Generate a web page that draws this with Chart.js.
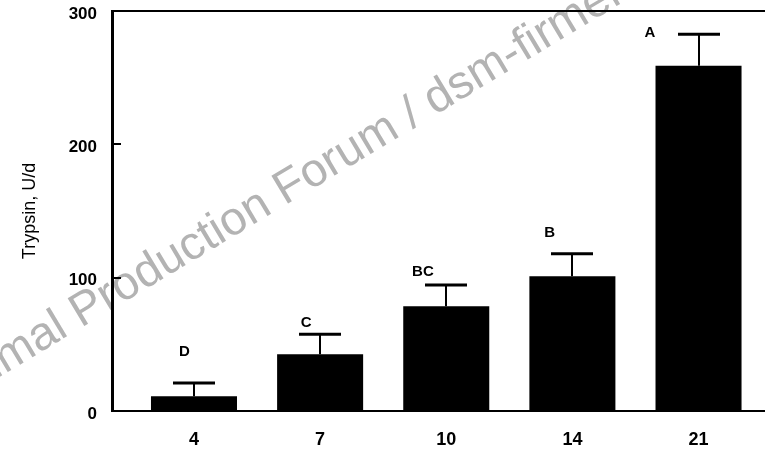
<!DOCTYPE html>
<html>
<head>
<meta charset="utf-8">
<script src="https://cdn.jsdelivr.net/npm/chart.js@4"></script>
<style>
  html, body { margin: 0; padding: 0; background: #fff; }
  #wrap { width: 765px; height: 450px; }
</style>
</head>
<body>
<div id="wrap"><canvas id="chart" width="765" height="450"></canvas></div>
<script>
const days = ["4", "7", "10", "14", "21"];
const trypsin = [11, 42.5, 78.5, 101, 259];
const trypsinSE = [10, 15, 16, 17, 23.5];
const letters = ["D", "C", "BC", "B", "A"];
// letter anchors in axis units (bar index, U/d)
const letterX = [0.925, 1.89, 2.815, 3.82, 4.615];
const letterY = [44, 66, 104, 133.5, 283.5];
const yTicks = [0, 100, 200, 300];
const watermarkLead = "Animal ";
const watermarkRest = "Production Forum / dsm-firmenich";

const extras = {
  id: "extras",
  beforeDraw(chart) {
    const ctx = chart.ctx;
    ctx.save();
    ctx.fillStyle = "#fff";
    ctx.fillRect(0, 0, chart.width, chart.height);
    ctx.translate(81, 328);
    ctx.rotate(-31 * Math.PI / 180);
    ctx.font = "47px 'Liberation Sans', Arial, sans-serif";
    ctx.fillStyle = "#b3b3b3";
    ctx.textBaseline = "alphabetic";
    ctx.textAlign = "right";
    ctx.fillText(watermarkLead, 0, 0);
    ctx.textAlign = "left";
    ctx.fillText(watermarkRest, 0, 0);
    ctx.restore();
  },
  afterDatasetsDraw(chart) {
    const { ctx, chartArea: area, scales: { x, y } } = chart;
    ctx.save();
    ctx.strokeStyle = "#000";
    ctx.lineCap = "butt";

    // top frame line
    ctx.lineWidth = 2;
    ctx.beginPath();
    ctx.moveTo(area.left, area.top);
    ctx.lineTo(area.right, area.top);
    ctx.stroke();

    // inward tick marks
    yTicks.slice(1, -1).forEach((v) => {
      const py = Math.round(y.getPixelForValue(v));
      ctx.beginPath();
      ctx.moveTo(area.left, py);
      ctx.lineTo(area.left + 9, py);
      ctx.stroke();
    });

    // error bars (upper only)
    trypsin.forEach((m, i) => {
      const cx = Math.round(x.getPixelForValue(i + 1));
      const y0 = y.getPixelForValue(m);
      const y1 = y.getPixelForValue(m + trypsinSE[i]);
      ctx.lineWidth = 2;
      ctx.beginPath();
      ctx.moveTo(cx, y0);
      ctx.lineTo(cx, y1);
      ctx.stroke();
      ctx.lineWidth = 3;
      ctx.beginPath();
      ctx.moveTo(cx - 21, y1);
      ctx.lineTo(cx + 21, y1);
      ctx.stroke();
    });

    // significance letters
    ctx.fillStyle = "#000";
    ctx.font = "bold 15px 'Liberation Sans', Arial, sans-serif";
    ctx.textAlign = "center";
    ctx.textBaseline = "middle";
    letters.forEach((t, i) => {
      ctx.fillText(t, x.getPixelForValue(letterX[i]), y.getPixelForValue(letterY[i]));
    });
    ctx.restore();
  },
};

new Chart(document.getElementById("chart"), {
  type: "bar",
  data: {
    datasets: [
      {
        label: "Trypsin, U/d",
        data: trypsin.map((v, i) => ({ x: i + 1, y: v })),
        backgroundColor: "#000",
        borderWidth: 0,
        barPercentage: 0.682,
        categoryPercentage: 1,
      },
    ],
  },
  options: {
    responsive: false,
    animation: false,
    devicePixelRatio: 1,
    layout: { padding: { top: 11, right: 0, bottom: 0, left: 0 } },
    plugins: {
      legend: { display: false },
      tooltip: { enabled: false },
    },
    scales: {
      x: {
        type: "linear",
        offset: false,
        min: 0.35,
        max: 5.527,
        afterBuildTicks: (scale) => {
          scale.ticks = days.map((d, i) => ({ value: i + 1 }));
        },
        afterFit: (scale) => {
          scale.height = 39;
          scale.paddingLeft = 0;
          scale.paddingRight = 0;
        },
        grid: { display: false, offset: false },
        border: { display: true, color: "#000", width: 2 },
        ticks: {
          autoSkip: false,
          maxRotation: 0,
          padding: 10,
          color: "#000",
          font: { family: "'Liberation Sans', Arial, sans-serif", size: 18, weight: "bold" },
          callback: (value) => days[value - 1],
        },
      },
      y: {
        min: 0,
        max: 300,
        afterBuildTicks: (scale) => {
          scale.ticks = yTicks.map((v) => ({ value: v }));
        },
        afterFit: (scale) => {
          scale.width = 112;
          scale.paddingTop = 0;
          scale.paddingBottom = 0;
        },
        grid: { display: false },
        border: { display: true, color: "#000", width: 3 },
        ticks: {
          padding: 7,
          labelOffset: 3,
          color: "#000",
          font: { family: "'Liberation Sans', Arial, sans-serif", size: 17, weight: "bold" },
        },
        title: {
          display: true,
          text: "Trypsin, U/d",
          color: "#000",
          padding: { top: 19, bottom: 0 },
          font: { family: "'Liberation Sans', Arial, sans-serif", size: 18 },
        },
      },
    },
  },
  plugins: [extras],
});
</script>
</body>
</html>
